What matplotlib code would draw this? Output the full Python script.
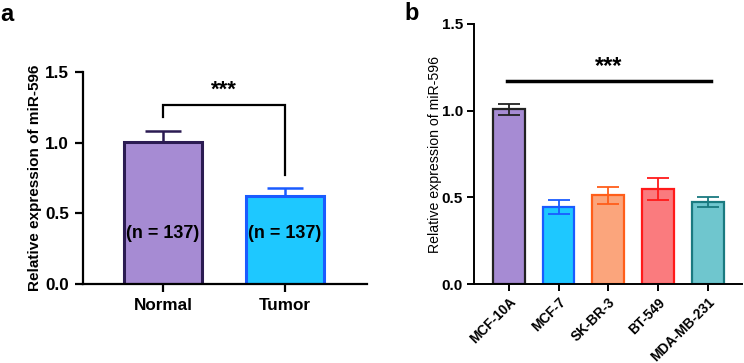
import matplotlib
matplotlib.use("Agg")
import matplotlib.pyplot as plt
import numpy as np

plt.rcParams['font.family'] = ['Liberation Sans', 'DejaVu Sans']

# Panel a data
a_groups = ["Normal", "Tumor"]
a_means = [1.005, 0.623]
a_err = [0.078, 0.057]
a_fill = ["#A68BD3", "#1EC8FF"]
a_edge = ["#2B1B52", "#1A5CFF"]
a_ntext = ["(n = 137)", "(n = 137)"]

# Panel b data
b_groups = ["MCF-10A", "MCF-7", "SK-BR-3", "BT-549", "MDA-MB-231"]
b_means = [1.008, 0.444, 0.512, 0.548, 0.474]
b_err = [0.031, 0.041, 0.049, 0.062, 0.030]
b_fill = ["#A68BD3", "#1EC8FF", "#FBA57C", "#FA7B7E", "#6FC6CE"]
b_edge = ["#222222", "#1A5CFF", "#FF5E1A", "#FF1A1A", "#1A7A80"]

fig = plt.figure(figsize=(7.44, 3.63), dpi=100)

# ---------- panel a ----------
axa = fig.add_axes([0.1116, 0.2176, 0.3817, 0.5841])
xa = np.arange(len(a_groups))
axa.bar(xa, a_means, width=0.64, color=a_fill, edgecolor=a_edge, linewidth=2.2, zorder=2)
for i in range(len(xa)):
    axa.errorbar(xa[i], a_means[i], yerr=[[0], [a_err[i]]], fmt='none',
                 ecolor=a_edge[i], elinewidth=1.8, capsize=13, capthick=1.8, zorder=1)
    axa.text(xa[i], 0.36, a_ntext[i], ha='center', va='center',
             fontsize=13, fontweight='bold', zorder=3)
# bracket
axa.plot([0, 0, 1, 1], [1.18, 1.265, 1.265, 0.77], color='black', lw=1.6,
         solid_joinstyle='miter', clip_on=False)
axa.text(0.5, 1.30, "***", ha='center', va='bottom', fontsize=16, fontweight='bold')
axa.set_xlim(-0.656, 1.672)
axa.set_ylim(0, 1.5)
axa.set_yticks([0.0, 0.5, 1.0, 1.5])
axa.set_yticklabels(["0.0", "0.5", "1.0", "1.5"])
axa.set_xticks(xa)
axa.set_xticklabels(a_groups)
for s in ['top', 'right']:
    axa.spines[s].set_visible(False)
for s in ['left', 'bottom']:
    axa.spines[s].set_linewidth(1.6)
axa.tick_params(axis='both', width=1.6, length=6, labelsize=12.3, pad=4)
for lab in axa.get_xticklabels() + axa.get_yticklabels():
    lab.set_fontweight('bold')
axa.set_ylabel("Relative expression of miR-596", fontsize=11, fontweight='bold', labelpad=2.5)

# ---------- panel b ----------
axb = fig.add_axes([0.637, 0.2176, 0.360, 0.7163])
xb = np.arange(len(b_groups))
axb.bar(xb, b_means, width=0.64, color=b_fill, edgecolor=b_edge, linewidth=1.6, zorder=1)
for i in range(len(xb)):
    axb.errorbar(xb[i], b_means[i], yerr=b_err[i], fmt='none',
                 ecolor=b_edge[i], elinewidth=1.3, capsize=8, capthick=1.3, zorder=2)
axb.plot([-0.04, 4.06], [1.173, 1.173], color='black', lw=2.5)
axb.text(2.0, 1.19, "***", ha='center', va='bottom', fontsize=17, fontweight='bold')
axb.set_xlim(-0.7, 4.68)
axb.set_ylim(0, 1.5)
axb.set_yticks([0.0, 0.5, 1.0, 1.5])
axb.set_yticklabels(["0.0", "0.5", "1.0", "1.5"])
axb.set_xticks(xb)
axb.set_xticklabels(b_groups, rotation=45, ha='right', rotation_mode='anchor')
for s in ['top', 'right']:
    axb.spines[s].set_visible(False)
for s in ['left', 'bottom']:
    axb.spines[s].set_linewidth(1.4)
axb.tick_params(axis='both', width=1.4, length=5, pad=3)
axb.tick_params(axis='y', labelsize=11)
axb.tick_params(axis='x', labelsize=9.8)
for lab in axb.get_xticklabels() + axb.get_yticklabels():
    lab.set_fontweight('bold')
axb.set_ylabel("Relative expression of miR-596", fontsize=10.2, labelpad=0)

fig.text(0.0, 0.96, "a", fontsize=17, fontweight='bold', va='center', ha='left')
fig.text(0.544, 0.963, "b", fontsize=17, fontweight='bold', va='center', ha='left')

fig.savefig("out.png", dpi=100)
